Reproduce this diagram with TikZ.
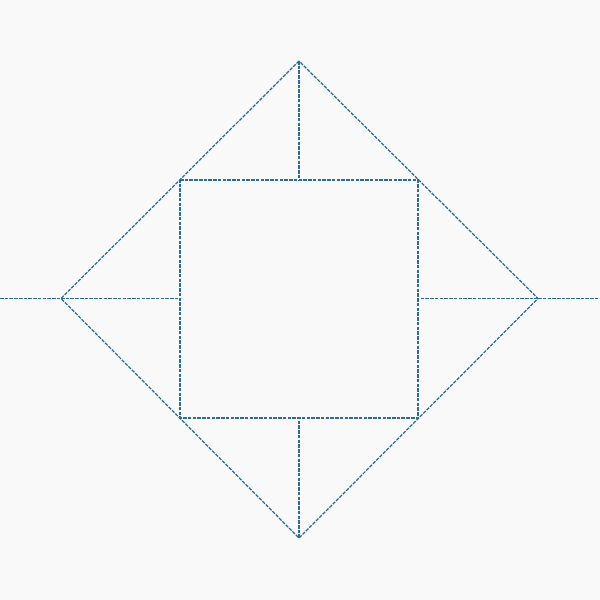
\documentclass[tikz,border=0pt]{standalone}
\definecolor{bg}{HTML}{F9F9F9}
\definecolor{ln}{HTML}{2A6B9C}
\begin{document}
\begin{tikzpicture}[x=0.01cm,y=-0.01cm,
  edge/.style={draw=ln,line width=0.35pt,dash pattern=on 1pt off 0.35pt}]
\fill[bg] (0,0) rectangle (600,600);
\useasboundingbox (0,0) rectangle (600,600);
\coordinate (T) at (299,61);
\coordinate (L) at (61,298.5);
\coordinate (R) at (538,298.5);
\coordinate (B) at (299,538);
\coordinate (W) at (0,298.5);
\coordinate (E) at (600,298.5);
\coordinate (s1) at (180,180);
\coordinate (s2) at (418,180);
\coordinate (s3) at (418,418);
\coordinate (s4) at (180,418);
\coordinate (mt) at (299,180);
\coordinate (mb) at (299,418);
\coordinate (ml) at (180,298.5);
\coordinate (mr) at (418,298.5);
\draw[edge] (T) -- (L) -- (B) -- (R) -- cycle;
\draw[edge] (s1) -- (s2) -- (s3) -- (s4) -- cycle;
\draw[edge] (T) -- (mt);
\draw[edge] (B) -- (mb);
\draw[edge] (L) -- (ml);
\draw[edge] (R) -- (mr);
\draw[edge] (W) -- (L);
\draw[edge] (R) -- (E);
\end{tikzpicture}
\end{document}
